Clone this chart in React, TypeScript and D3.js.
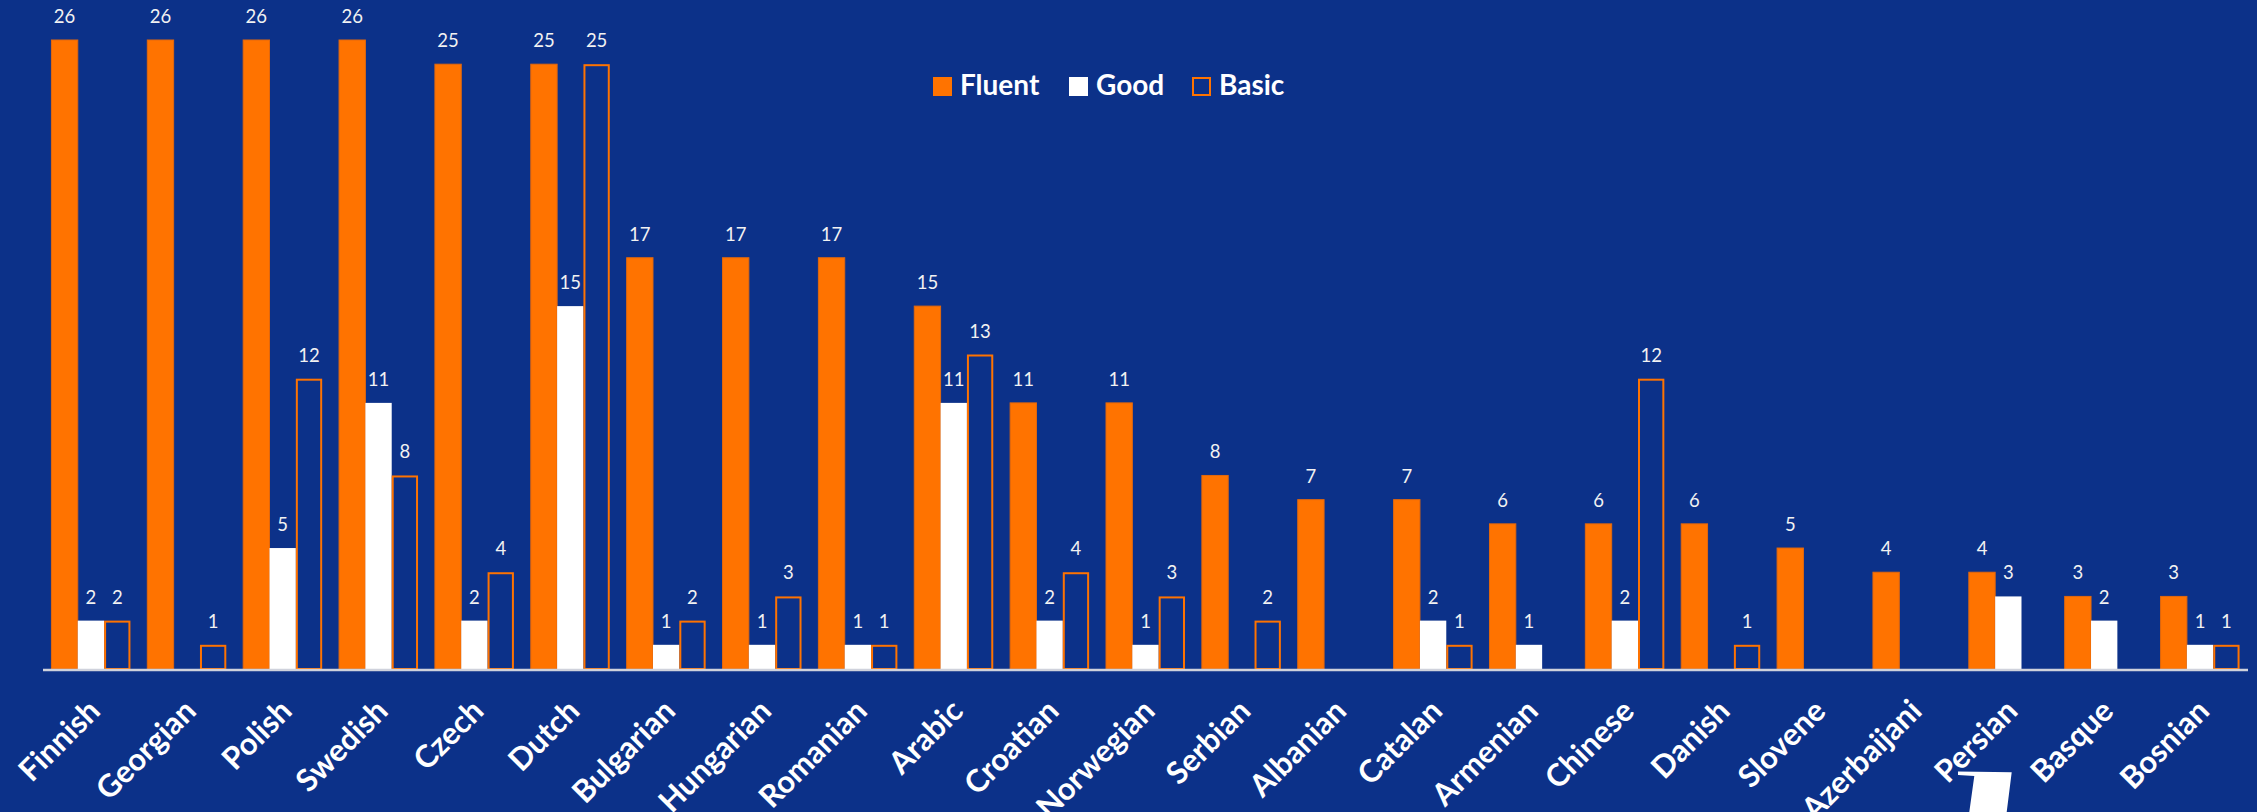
import React from "react";
import * as d3 from "d3";

const categories = ["Finnish","Georgian","Polish","Swedish","Czech","Dutch","Bulgarian","Hungarian","Romanian","Arabic","Croatian","Norwegian","Serbian","Albanian","Catalan","Armenian","Chinese","Danish","Slovene","Azerbaijani","Persian","Basque","Bosnian"];
const fluent = [26,26,26,26,25,25,17,17,17,15,11,11,8,7,7,6,6,6,5,4,4,3,3];
const good = [2,0,5,11,2,15,1,1,1,11,2,1,0,0,2,1,2,0,0,0,3,2,1];
const basic = [2,1,12,8,4,25,2,3,1,13,4,3,2,0,1,0,12,1,0,0,0,0,1];
const seriesNames = ["Fluent","Good","Basic"];

const W = 2257, H = 812;
const BG = "#0c3189";
const ORANGE = "#ff7300";
const FONT = "Lato, 'Open Sans', sans-serif";

export default function App() {
  const x = d3.scaleBand<string>().domain(categories).range([43, 2248]).paddingInner(0).paddingOuter(0);
  const bw = x.bandwidth();
  const xs = d3.scaleBand<string>().domain(seriesNames).range([bw * 0.088, bw * 0.912]).padding(0);
  const y = d3.scaleLinear().domain([0, 26]).range([669, 40]);
  const sw = xs.bandwidth();
  const values: Record<string, number[]> = { Fluent: fluent, Good: good, Basic: basic };

  const bars: React.ReactNode[] = [];
  const labels: React.ReactNode[] = [];
  categories.forEach((c, i) => {
    seriesNames.forEach((s) => {
      const v = values[s][i];
      if (!v) return;
      const x0 = (x(c) ?? 0) + (xs(s) ?? 0);
      const yt = y(v);
      const hgt = y(0) - yt;
      if (s === "Fluent") {
        bars.push(<rect key={c + s} x={x0} y={yt} width={sw} height={hgt} fill={ORANGE} stroke="#e3680c" strokeWidth={1} />);
      } else if (s === "Good") {
        bars.push(<rect key={c + s} x={x0} y={yt} width={sw} height={hgt} fill="#ffffff" />);
      } else {
        bars.push(<rect key={c + s} x={x0 + 1} y={yt + 1} width={sw - 2} height={hgt - 1} fill="none" stroke={ORANGE} strokeWidth={2} />);
      }
      labels.push(
        <text key={c + s + "l"} x={x0 + sw / 2} y={yt - 17} textAnchor="middle" fill="#f2f2f2" fontSize={18.5} fontFamily={FONT}>{v}</text>
      );
    });
  });

  const legend = [
    { name: "Fluent", sx: 933, tx: 960 },
    { name: "Good", sx: 1069, tx: 1096 },
    { name: "Basic", sx: 1192, tx: 1219 },
  ];

  return (
    <svg width={W} height={H} style={{ position: "fixed", left: 0, top: 0, display: "block" }}>
      <rect x={0} y={0} width={W} height={H} fill={BG} />
      {bars}
      <line x1={43} x2={2248} y1={y(0) + 1} y2={y(0) + 1} stroke="#cfd2dc" strokeWidth={2.5} />
      {labels}
      {categories.map((c) => {
        const cx = (x(c) ?? 0) + bw / 2 + 11;
        const cy = 713;
        return (
          <text key={c + "ax"} transform={`translate(${cx},${cy}) rotate(-45)`} textAnchor="end" fill="#ffffff" fontSize={31} fontWeight={700} fontFamily={FONT}>{c}</text>
        );
      })}
      {legend.map((l) => (
        <g key={l.name}>
          {l.name === "Fluent" && <rect x={l.sx} y={77} width={19} height={19} fill={ORANGE} />}
          {l.name === "Good" && <rect x={l.sx} y={77} width={19} height={19} fill="#ffffff" />}
          {l.name === "Basic" && <rect x={l.sx + 1} y={78} width={17} height={17} fill="none" stroke={ORANGE} strokeWidth={2} />}
          <text x={l.tx} y={95} fill="#ffffff" fontSize={28} fontWeight={700} fontFamily={FONT}>{l.name}</text>
        </g>
      ))}
      <path d="M1958,771.5 L2011.7,772.3 L2006.7,812 L1969.3,812 L1974.3,776 L1958,775 Z" fill="#ffffff" />
    </svg>
  );
}
